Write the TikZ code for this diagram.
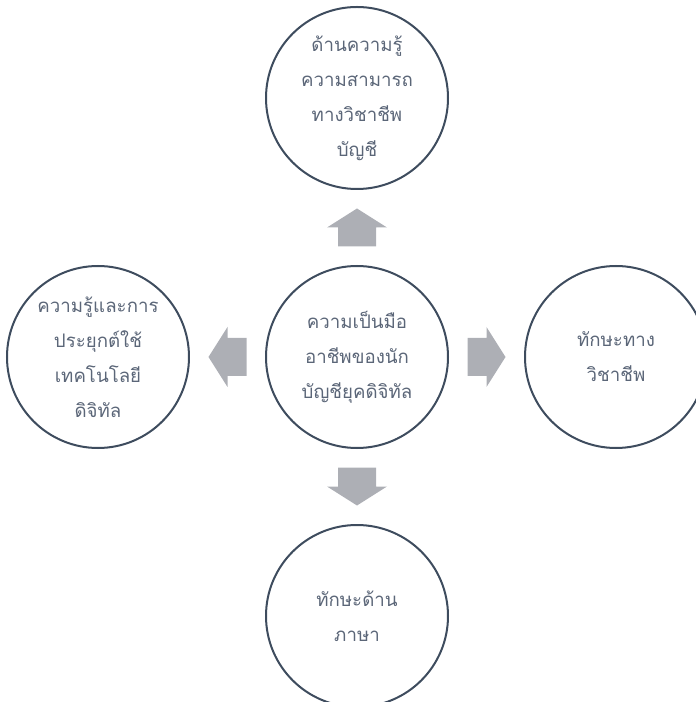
\documentclass[tikz,border=0pt]{standalone}
\usepackage{fontspec}
\newfontfamily\thaifont[Script=Thai]{Loma}
\usepackage{xcolor}
\usetikzlibrary{positioning}
\definecolor{corLinha}{HTML}{3E4C5E}
\definecolor{corTexto}{HTML}{5B6678}
\definecolor{corSeta}{HTML}{ADAFB5}

\begin{document}
\begin{tikzpicture}[x=0.75pt, y=0.75pt, node distance=56.25pt,
  circulo/.style={circle, draw=corLinha, line width=1.5pt, minimum size=136.5pt,
    inner sep=0pt, align=center, text=corTexto,
    font=\thaifont\fontsize{14}{26.25}\selectfont},
  seta/.pic={\fill[corSeta] (-19,-19) -- (0,-19) -- (0,-30) -- (19,0)
    -- (0,30) -- (0,19) -- (-19,19) -- cycle;}]
  \useasboundingbox (-357,-345) rectangle (338,357);

  % Circulo central
  \node[circulo] (centro) at (0,0) {ความเป็นมือ\\อาชีพของนัก\\บัญชียุคดิจิทัล};

  % Circulos ao redor
  \node[circulo, above=of centro] (cima) {ด้านความรู้\\ความสามารถ\\ทางวิชาชีพ\\บัญชี};
  \node[circulo, below=of centro] (baixo) {ทักษะด้าน\\ภาษา};
  \node[circulo, left=of centro] (esq) {ความรู้และการ\\ประยุกต์ใช้\\เทคโนโลยี\\ดิจิทัล};
  \node[circulo, right=of centro] (dir) {ทักษะทาง\\วิชาชีพ};

  % Setas entre o centro e cada circulo
  \foreach \alvo/\ang in {cima/90, baixo/-90, esq/180, dir/0} {
    \path (centro) -- (\alvo) coordinate[midway] (m\alvo);
    \pic[rotate=\ang] at (m\alvo) {seta};
  }
\end{tikzpicture}
\end{document}
